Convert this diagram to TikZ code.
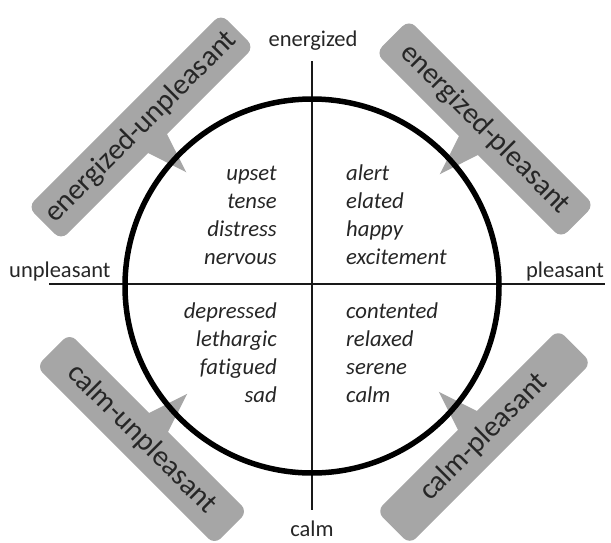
\documentclass[tikz,border=0pt]{standalone}
\usepackage{fontspec}
\setmainfont{Carlito}[Ligatures={NoCommon}]
\usetikzlibrary{calc}
\pgfdeclarelayer{background}
\pgfsetlayers{background,main}
\definecolor{callgray}{HTML}{A6A6A6}
\definecolor{ink}{HTML}{262626}
\begin{document}
\begin{tikzpicture}[x=1pt,y=-1pt,
  word/.style={font=\fontsize{22.7}{27}\selectfont\itshape, text=ink, inner sep=0pt},
  axislabel/.style={font=\fontsize{22.5}{27}\selectfont, text=ink, inner sep=0pt},
  callbox/.style={fill=callgray, rounded corners=9pt, minimum height=47pt, inner sep=0pt,
    font=\fontsize{29.5}{30}\selectfont, text=ink},
  pointer/.style={fill=callgray},
  axisline/.style={line width=2.2pt, draw=black!90},
  ring/.style={draw=black, line width=5.5pt, circle, minimum size=374pt, inner sep=0pt},
  ]
\useasboundingbox (0,0) rectangle (611,542);

% axes
\coordinate (vtop) at (312,61);
\coordinate (vbot) at (312,510);
\coordinate (hleft) at (49,284);
\coordinate (hright) at (605,284);
\draw[axisline] (vtop) -- (vbot);
\draw[axisline] (hleft) -- (hright);

% circle
\node[ring] (circ) at (312,286) {};

% axis labels
\node[axislabel, anchor=base] (lenergized) at (313,46) {energized};
\node[axislabel, anchor=base] (lcalm) at (312,536) {calm};
\node[axislabel, anchor=base west] (lunpleasant) at (9,277) {unpleasant};
\node[axislabel, anchor=base east] (lpleasant) at (604,277) {pleasant};

% word lists
\foreach \w [count=\i] in {upset,tense,distress,nervous}
  \node[word, anchor=base east] (ul\i) at (277,{180+28.33*(\i-1)}) {\w};
\foreach \w [count=\i] in {alert,elated,happy,excitement}
  \node[word, anchor=base west] (ur\i) at (346,{180+28.33*(\i-1)}) {\w};
\foreach \w [count=\i] in {depressed,lethargic,fatigued,sad}
  \node[word, anchor=base east] (ll\i) at (277,{318+28.33*(\i-1)}) {\w};
\foreach \w [count=\i] in {contented,relaxed,serene,calm}
  \node[word, anchor=base west] (lr\i) at (346,{318+28.33*(\i-1)}) {\w};

% callouts
\node[callbox, minimum width=273pt, rotate=45] (eu) at (141,127) {energized-unpleasant};
\node[callbox, minimum width=262pt, rotate=-45] (ep) at (485,129) {energized-pleasant};
\node[callbox, minimum width=252pt, rotate=-45] (cu) at (142,439) {calm-unpleasant};
\node[callbox, minimum width=257pt, rotate=45] (cp) at (484,437) {calm-pleasant};

\coordinate (eut) at ($(eu.center)!64pt!(eu.south)$);
\coordinate (ept) at ($(ep.center)!64pt!(ep.south)$);
\coordinate (cut) at ($(cu.center)!64pt!(cu.north)$);
\coordinate (cpt) at ($(cp.center)!64pt!(cp.north)$);

\begin{pgfonlayer}{background}
\fill[pointer] ($(eu.center)!21pt!(eu.west)$) -- (eut) -- ($(eu.center)!21pt!(eu.east)$) -- cycle;
\fill[pointer] ($(ep.center)!21pt!(ep.west)$) -- (ept) -- ($(ep.center)!21pt!(ep.east)$) -- cycle;
\fill[pointer] ($(cu.center)!21pt!(cu.west)$) -- (cut) -- ($(cu.center)!21pt!(cu.east)$) -- cycle;
\fill[pointer] ($(cp.center)!21pt!(cp.west)$) -- (cpt) -- ($(cp.center)!21pt!(cp.east)$) -- cycle;
\end{pgfonlayer}
\end{tikzpicture}
\end{document}
